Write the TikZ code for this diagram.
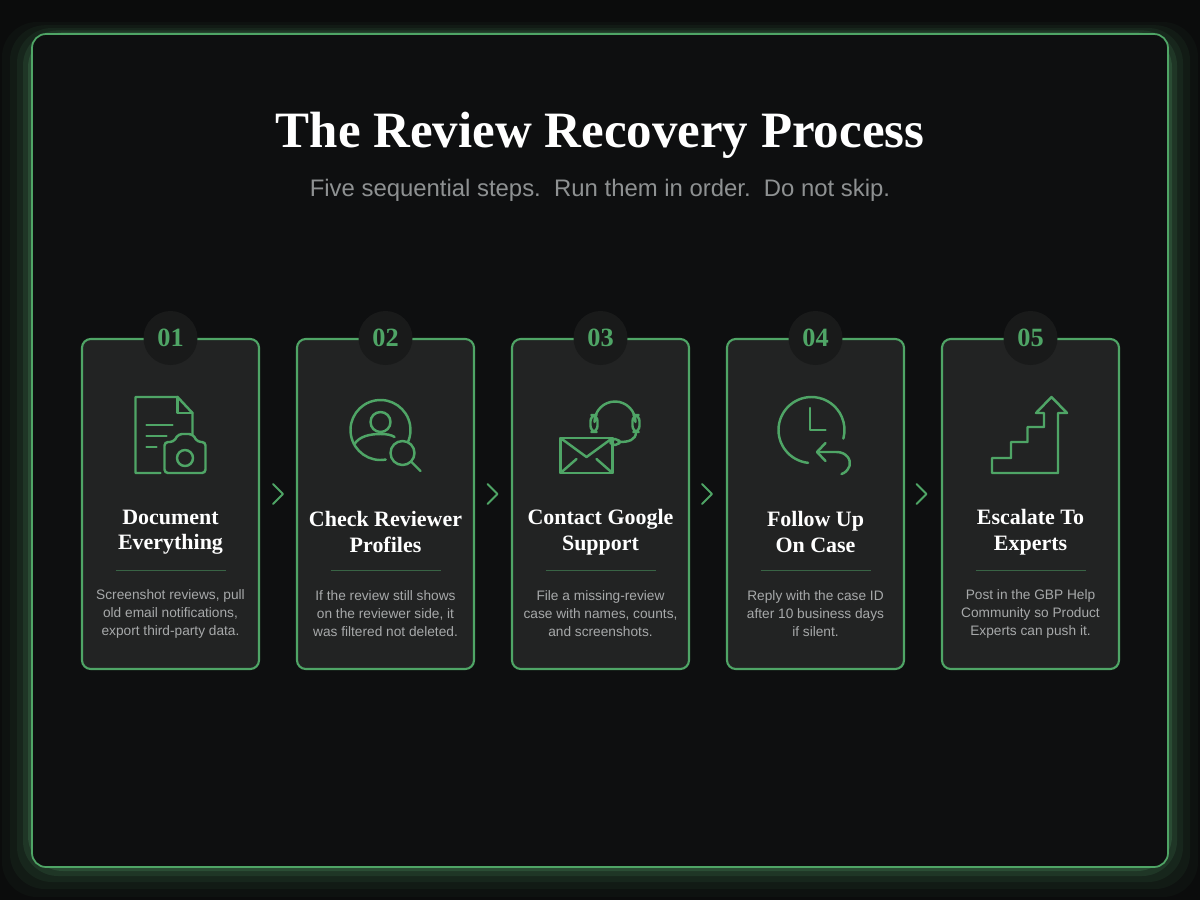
\documentclass[tikz,border=0pt]{standalone}
\usepackage{fontspec}
\setmainfont{Liberation Serif}
\setsansfont{Liberation Sans}
\usetikzlibrary{positioning,calc}
\definecolor{bgOut}{HTML}{0B0C0C}
\definecolor{bgIn}{HTML}{0E0F10}
\definecolor{cardCol}{HTML}{222323}
\definecolor{accGreen}{HTML}{4FA566}
\definecolor{glowCol}{HTML}{5DB075}
\definecolor{subGrey}{HTML}{8E9192}
\definecolor{bodyGrey}{HTML}{A7A9AA}
\tikzset{
  card/.style={draw=accGreen, line width=1.2pt, fill=cardCol, rounded corners=5pt,
    minimum width=177*0.02cm, minimum height=330*0.02cm, inner sep=0pt},
  badge/.style={circle, fill=cardCol!75!black, minimum size=54*0.02cm, inner sep=0pt,
    font=\rmfamily\bfseries\fontsize{15}{15}\selectfont, text=accGreen},
  ttl/.style={align=center, font=\rmfamily\bfseries\fontsize{12.5}{14.5}\selectfont, text=white},
  body/.style={align=center, font=\sffamily\fontsize{7.8}{10.2}\selectfont, text=bodyGrey},
  icon/.style={draw=accGreen, line width=1.4pt, line cap=round, line join=round},
  chev/.style={draw=accGreen, line width=1.1pt, line cap=round, line join=round}
}
\begin{document}
\begin{tikzpicture}[x=0.02cm, y=-0.02cm]
\useasboundingbox (0,0) rectangle (1200,900);
\fill[bgOut] (0,0) rectangle (1200,900);
% glow round the frame
\foreach \g/\o in {30/0.04,22/0.06,15/0.08,9/0.12,4/0.18}
  \fill[glowCol, opacity=\o, rounded corners=20pt] (32-\g,34-\g*0.4) rectangle (1168+\g,867+\g);
\fill[bgIn, draw=accGreen, line width=1pt, rounded corners=8pt] (32,34) rectangle (1168,867);

\node[font=\rmfamily\bfseries\fontsize{29}{29}\selectfont, text=white] (title) at (600,135) {The Review Recovery Process};
\node[font=\sffamily\fontsize{13.6}{15}\selectfont\frenchspacing, text=subGrey] (sub) at (600,190) {Five sequential steps.\ \ Run them in order.\ \ Do not skip.};

\foreach \i/\num/\tA/\bA in {
  1/01/{Document\\Everything}/{Screenshot reviews, pull\\old email notifications,\\export third-party data.},
  2/02/{Check Reviewer\\Profiles}/{If the review still shows\\on the reviewer side, it\\was filtered not deleted.},
  3/03/{Contact Google\\Support}/{File a missing-review\\case with names, counts,\\and screenshots.},
  4/04/{Follow Up\\On Case}/{Reply with the case ID\\after 10 business days\\if silent.},
  5/05/{Escalate To\\Experts}/{Post in the GBP Help\\Community so Product\\Experts can push it.}}
{
  \pgfmathsetmacro{\cx}{170.5+215*(\i-1)}
  \node[card] (c\i) at (\cx,504) {};
  \node[badge] (b\i) at (\cx,338) {\num};
  \node[ttl] (t\i) at (\cx,532) {\tA};
  \draw[accGreen!50!cardCol, line width=0.5pt] (\cx-55,570) -- (\cx+55,570);
  \node[body] (d\i) at (\cx,614) {\bA};
}
% chevrons between cards
\foreach \i in {1,...,4}
{
  \pgfmathsetmacro{\hx}{278+214.5*(\i-1)}
  \draw[chev] (\hx-5,484) -- (\hx+5,494) -- (\hx-5,504);
}

% icon 1: document and camera
\begin{scope}[shift={(170.5,435)}]
  \draw[icon] (-10,38) -- (-35,38) -- (-35,-38) -- (7,-38) -- (22,-22) -- (22,0);
  \draw[icon] (7,-38) -- (7,-22) -- (22,-22);
  \draw[icon] (-24,-10) -- (2,-10) (-24,1) -- (-4,1) (-24,12) -- (-14,12);
  \draw[icon, rounded corners=2pt] (-6,38) -- (-6,7) -- (3,7) -- (8,-1) -- (22,-1) -- (27,7) -- (35,7) -- (35,38) -- cycle;
  \draw[icon] (14.5,23) circle (8);
\end{scope}
% icon 2: profile with magnifier
\begin{scope}[shift={(385.5,435)}]
  \draw[icon] (-5,-13) circle (10);
  \draw[icon] ([shift={(80:30)}]-5,-5) arc (80:382:30);
  \draw[icon] (-31,9) .. controls (-26,1) and (-15,-1) .. (-5,-1) .. controls (2,-1) and (6,0) .. (9,2);
  \draw[icon] (17,18) circle (12);
  \draw[icon] (26,27) -- (35,36);
\end{scope}
% icon 3: envelope and headset
\begin{scope}[shift={(600.5,435)}]
  \draw[icon] (-40,3) rectangle (12,38);
  \draw[icon] (-40,3) -- (-14,22) -- (12,3);
  \draw[icon] (-40,38) -- (-24,24) (12,38) -- (-4,24);
  \draw[icon] (-6,-13) arc (180:360:20.5);
  \draw[icon, rounded corners=3.5pt] (-10,-20) rectangle (-3,-3);
  \draw[icon, rounded corners=3.5pt] (32,-20) rectangle (39,-3);
  \draw[icon] (35.5,-3) .. controls (35.5,5) and (28,7) .. (19,7);
  \draw[icon, rounded corners=2.5pt] (10,4) rectangle (19,10);
\end{scope}
% icon 4: clock with return arrow
\begin{scope}[shift={(814.5,435)}]
  \draw[icon] ([shift={(96:33)}]-3,-5) arc (96:375:33);
  \draw[icon] (-4.5,-27) -- (-4.5,-5) -- (11,-5);
  \draw[icon] (11,8) -- (2.5,17) -- (11,26);
  \draw[icon] (2.5,17) -- (22,17) .. controls (32,17) and (37,25) .. (35,31) .. controls (33,36) and (30,38) .. (27,39);
\end{scope}
% icon 5: stairs with arrow
\begin{scope}[shift={(1029.5,435)}]
  \draw[icon] (-37.5,38) -- (-37.5,23) -- (-18.5,23) -- (-18.5,7) -- (-2,7) -- (-2,-8) -- (14.5,-8) -- (14.5,-22) -- (6.5,-22) -- (22,-38) -- (37.5,-22) -- (28.5,-22) -- (28.5,38) -- cycle;
\end{scope}
\end{tikzpicture}
\end{document}
